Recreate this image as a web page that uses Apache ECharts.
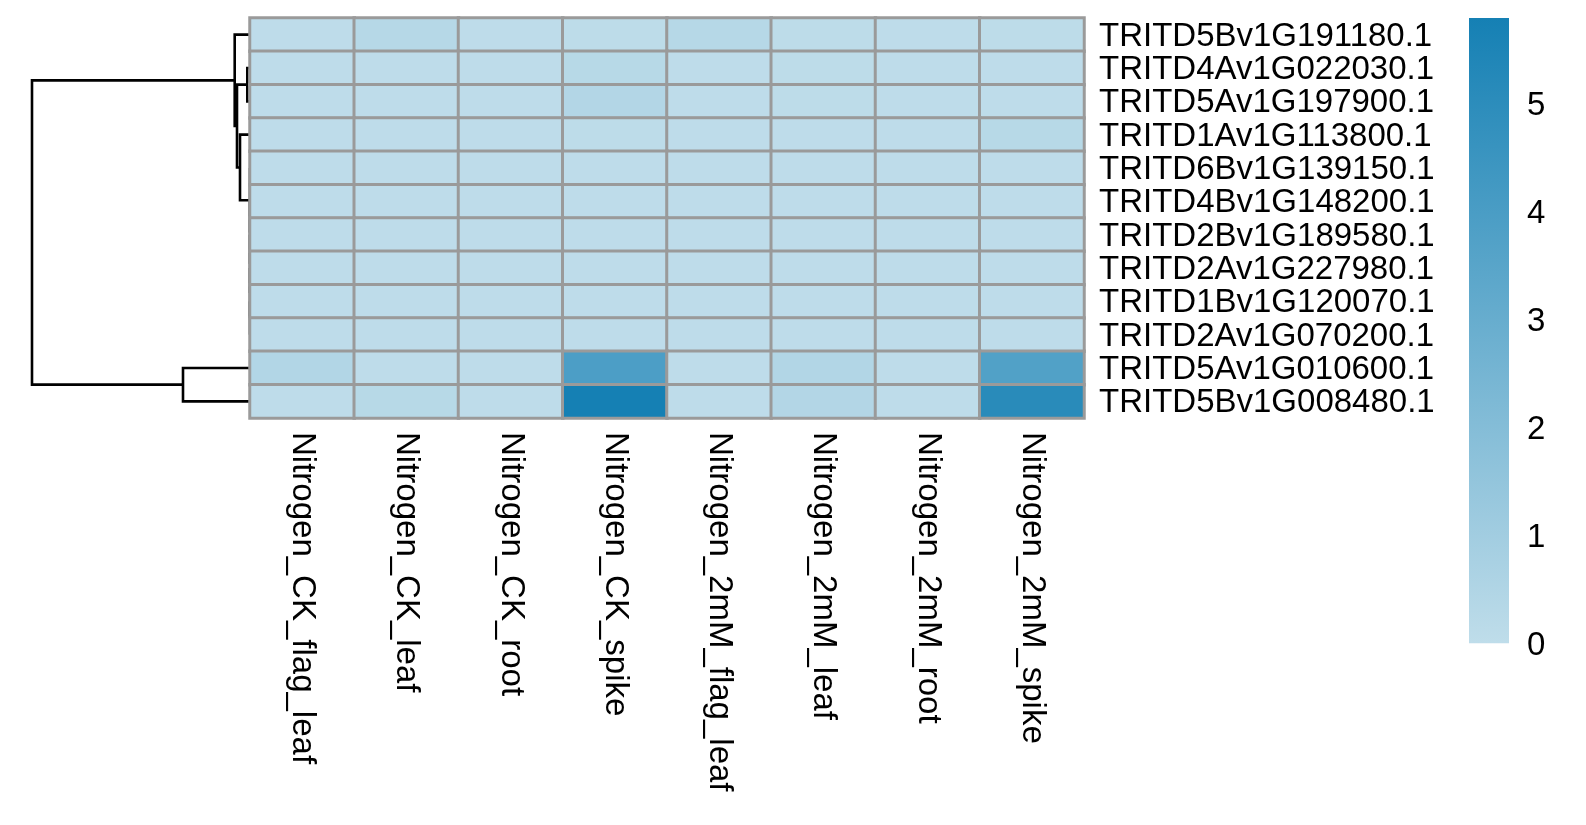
<!DOCTYPE html>
<html><head><meta charset="utf-8">
<script src="https://cdn.jsdelivr.net/npm/echarts@6/dist/echarts.min.js"></script>
<style>html,body{margin:0;padding:0;background:#fff}#c{width:1586px;height:825px}</style>
</head><body><div id="c"></div><script>
// ---- data ----
const rowLabels = [
  'TRITD5Bv1G191180.1','TRITD4Av1G022030.1','TRITD5Av1G197900.1','TRITD1Av1G113800.1',
  'TRITD6Bv1G139150.1','TRITD4Bv1G148200.1','TRITD2Bv1G189580.1','TRITD2Av1G227980.1',
  'TRITD1Bv1G120070.1','TRITD2Av1G070200.1','TRITD5Av1G010600.1','TRITD5Bv1G008480.1'
];
const colLabels = [
  'Nitrogen_CK_flag_leaf','Nitrogen_CK_leaf','Nitrogen_CK_root','Nitrogen_CK_spike',
  'Nitrogen_2mM_flag_leaf','Nitrogen_2mM_leaf','Nitrogen_2mM_root','Nitrogen_2mM_spike'
];
const values = [
  [0.05, 0.30, 0.05, 0.08, 0.30, 0.08, 0.05, 0.08],
  [0.05, 0.05, 0.05, 0.28, 0.05, 0.06, 0.05, 0.05],
  [0.05, 0.05, 0.05, 0.42, 0.05, 0.06, 0.05, 0.05],
  [0.05, 0.05, 0.05, 0.06, 0.05, 0.05, 0.05, 0.28],
  [0.05, 0.05, 0.05, 0.05, 0.05, 0.05, 0.05, 0.05],
  [0.05, 0.05, 0.05, 0.05, 0.05, 0.05, 0.05, 0.05],
  [0.05, 0.05, 0.05, 0.05, 0.05, 0.05, 0.05, 0.05],
  [0.05, 0.05, 0.05, 0.05, 0.05, 0.05, 0.05, 0.05],
  [0.05, 0.05, 0.05, 0.05, 0.05, 0.05, 0.05, 0.05],
  [0.05, 0.05, 0.05, 0.05, 0.05, 0.05, 0.05, 0.05],
  [0.45, 0.05, 0.05, 3.90, 0.05, 0.45, 0.05, 3.75],
  [0.05, 0.28, 0.05, 5.79, 0.05, 0.42, 0.05, 5.10]
];
// row dendrogram (hclust-style merges: negative = leaf row, positive = earlier merge)
const mergeLeft   = [-9, -8, -7, -6, -5, -4, -2, 7, -1, -11, 9];
const mergeRight  = [-10, 1, 2, 3, 4, 5, -3, 6, 8, -12, 10];
const mergeHeight = [0, 0, 0, 0, 0, 1.0, 0.27, 1.3, 1.53, 6.7, 21.8];
const colorMin = 0, colorMax = 5.79;
const lowColor = '#BFDDEA', highColor = '#1580B4';

// ---- build ----
const heatData = [];
values.forEach((row, r) => row.forEach((v, c) => heatData.push([c, r, v])));

const nodes = [];
function info(id) { return id < 0 ? { pos: -id - 0.5, h: 0 } : nodes[id - 1]; }
const dendroData = [];
for (let i = 0; i < mergeHeight.length; i++) {
  const L = info(mergeLeft[i]), R = info(mergeRight[i]);
  nodes.push({ pos: (L.pos + R.pos) / 2, h: mergeHeight[i] });
  dendroData.push([L.h, L.pos, R.h, R.pos, mergeHeight[i]]);
}
const rootH = Math.max(...mergeHeight);
const font = 'Liberation Sans, Arial, sans-serif';

const chart = echarts.init(document.getElementById('c'), null, { renderer: 'canvas' });
chart.setOption({
  backgroundColor: '#fff',
  animation: false,
  grid: [
    { left: 32, top: 18, width: 218, height: 400 },
    { left: 250, top: 18, width: 834, height: 400 },
    { left: 1469, top: 18, width: 40, height: 625.3 }
  ],
  xAxis: [
    { gridIndex: 0, type: 'value', min: 0, max: rootH, inverse: true, show: false },
    { gridIndex: 1, type: 'category', data: colLabels, position: 'bottom',
      axisLine: { show: false }, axisTick: { show: false }, splitLine: { show: false },
      axisLabel: { rotate: -90, margin: 14, fontSize: 33, color: '#000', fontFamily: font, interval: 0 } },
    { gridIndex: 2, type: 'value', min: 0, max: 1, show: false }
  ],
  yAxis: [
    { gridIndex: 0, type: 'value', min: 0, max: rowLabels.length, inverse: true, show: false },
    { gridIndex: 1, type: 'category', data: rowLabels, inverse: true, position: 'right',
      axisLine: { show: false }, axisTick: { show: false }, splitLine: { show: false },
      axisLabel: { margin: 15, interval: 0, formatter: v => '{a|' + v + '}',
        rich: { a: { fontSize: 33, color: '#000', fontFamily: font, padding: [4, 0, 0, 0] } } } },
    { gridIndex: 2, type: 'value', min: colorMin, max: colorMax, interval: 1, position: 'right',
      axisLine: { show: false }, axisTick: { show: false }, splitLine: { show: false },
      axisLabel: { margin: 18, showMaxLabel: false, formatter: v => '{a|' + v + '}',
        rich: { a: { fontSize: 33, color: '#000', fontFamily: font, padding: [6, 0, 0, 0] } } } }
  ],
  visualMap: {
    show: false, type: 'continuous', seriesIndex: 1, dimension: 2,
    min: colorMin, max: colorMax, inRange: { color: [lowColor, highColor] }
  },
  series: [
    { type: 'custom', xAxisIndex: 0, yAxisIndex: 0, z: 1, data: dendroData, silent: true,
      renderItem: function (params, api) {
        const hL = api.value(0), pL = api.value(1), hR = api.value(2), pR = api.value(3), h = api.value(4);
        const pts = [api.coord([hL, pL]), api.coord([h, pL]), api.coord([h, pR]), api.coord([hR, pR])];
        return { type: 'polyline', shape: { points: pts }, style: { stroke: '#000', lineWidth: 2.6, fill: null } };
      },
      encode: { x: [0, 2, 4], y: [1, 3] }
    },
    { type: 'heatmap', xAxisIndex: 1, yAxisIndex: 1, z: 3, data: heatData, silent: true,
      itemStyle: { borderColor: '#9A9A9A', borderWidth: 3 } },
    { type: 'custom', xAxisIndex: 2, yAxisIndex: 2, data: [[0, colorMin, 1, colorMax]], silent: true,
      renderItem: function (params, api) {
        const p0 = api.coord([api.value(0), api.value(1)]);
        const p1 = api.coord([api.value(2), api.value(3)]);
        return { type: 'rect',
          shape: { x: p0[0], y: p1[1], width: p1[0] - p0[0], height: p0[1] - p1[1] },
          style: { fill: new echarts.graphic.LinearGradient(0, 1, 0, 0, [
            { offset: 0, color: lowColor }, { offset: 1, color: highColor }]) } };
      },
      encode: { x: [0, 2], y: [1, 3] }
    }
  ]
});
</script></body></html>
